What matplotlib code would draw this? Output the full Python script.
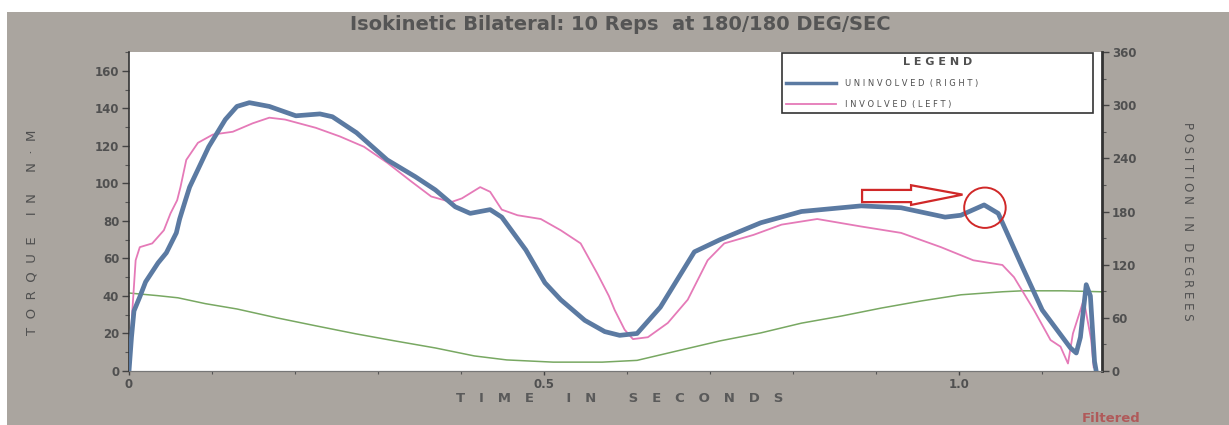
import matplotlib.pyplot as plt
from matplotlib.patches import Rectangle, Ellipse, Polygon
from matplotlib.ticker import MultipleLocator, FixedLocator
from matplotlib.lines import Line2D

# uninvolved (right) torque, N*M
right_t = [0.000, 0.003, 0.006, 0.013, 0.020, 0.035, 0.045, 0.057, 0.061, 0.068, 0.073,
           0.096, 0.116, 0.130, 0.145, 0.169, 0.201, 0.230, 0.245, 0.274, 0.311, 0.345,
           0.369, 0.393, 0.411, 0.435, 0.449, 0.478, 0.501, 0.520, 0.549, 0.573, 0.591,
           0.612, 0.640, 0.681, 0.712, 0.761, 0.810, 0.882, 0.930, 0.983, 1.002, 1.030,
           1.047, 1.076, 1.100, 1.134, 1.141, 1.146, 1.153, 1.158, 1.163, 1.165]
right_nm = [0, 18, 32, 39.5, 47.5, 57.6, 63, 73.6, 81, 91, 98,
            119.5, 134, 141, 143, 141, 136, 137, 135.5, 127, 112.5, 103.5,
            96.5, 87.5, 84, 86, 82, 64.5, 47, 38, 27, 21, 19,
            20, 34, 63.5, 70, 79, 85, 88, 87, 82, 83, 88.5,
            84, 55.5, 32.5, 12.3, 9.6, 18, 46, 40, 5, 0]

# involved (left) torque, N*M
left_t = [0.000, 0.004, 0.008, 0.013, 0.028, 0.042, 0.050, 0.058, 0.062, 0.069, 0.083,
          0.101, 0.125, 0.149, 0.169, 0.188, 0.225, 0.254, 0.283, 0.311, 0.340, 0.364,
          0.388, 0.401, 0.423, 0.435, 0.449, 0.468, 0.496, 0.520, 0.544, 0.564, 0.578,
          0.585, 0.597, 0.607, 0.625, 0.649, 0.673, 0.697, 0.717, 0.752, 0.786, 0.829,
          0.882, 0.930, 0.978, 1.017, 1.052, 1.066, 1.090, 1.110, 1.122, 1.131, 1.137,
          1.150, 1.159, 1.162]
left_nm = [0, 32, 59, 66, 68, 75, 84, 91, 98, 112.5, 121.6,
           126, 127.5, 132, 135, 134, 129.6, 125, 119.5, 111, 101, 93,
           90, 92, 98, 95.5, 86, 83, 81, 75, 68, 52, 40,
           32.5, 22, 17, 18, 25.6, 38, 59, 68, 72.5, 78, 81,
           77, 73.6, 66, 59, 56.5, 50, 32.5, 16.5, 13, 4, 20,
           38, 16.5, 2]

# position, degrees
pos_t = [0.000, 0.035, 0.059, 0.092, 0.130, 0.178, 0.225, 0.273, 0.320, 0.369, 0.416,
         0.455, 0.511, 0.570, 0.612, 0.660, 0.712, 0.761, 0.810, 0.858, 0.906, 0.954,
         1.002, 1.052, 1.076, 1.124, 1.172]
pos_deg = [88, 85, 82.6, 76, 70, 60, 51, 42, 34, 26, 17,
           12.5, 10, 10, 12, 22.6, 34, 43, 54, 62, 71, 79,
           86, 89.4, 90.5, 90.5, 89.4]

x_ticks = [0, 0.5, 1.0]
x_tick_labels = ['0', '0.5', '1.0']

BG = '#aaa59f'
TXT = '#505050'
BLUE = '#5b7aa2'
PINK = '#e57ab8'
GREEN = '#78a862'


def spaced(s, gap='  '):
    return gap.join(s)


fig = plt.figure(figsize=(12.29, 4.25), dpi=100)
fig.patches.append(Rectangle((7 / 1229, 0), 1, 413 / 425, transform=fig.transFigure,
                             facecolor=BG, edgecolor='none', zorder=-10))

ax = fig.add_axes([129 / 1229, 54 / 425, 973 / 1229, 319 / 425])
ax.set_facecolor('white')
ax.set_xlim(0, 1.172)
ax.set_ylim(0, 170)

ax.plot(left_t, left_nm, color=PINK, lw=1.3, zorder=3)
ax.plot(right_t, right_nm, color=BLUE, lw=3.4, zorder=4, solid_capstyle='round',
        solid_joinstyle='round')

ax2 = ax.twinx()
ax2.set_ylim(0, 360)
ax2.plot(pos_t, pos_deg, color=GREEN, lw=1.1, zorder=2)
ax.set_zorder(ax2.get_zorder() + 1)
ax.patch.set_visible(False)
ax2.patch.set_facecolor('white')
ax2.patch.set_visible(True)

for a in (ax, ax2):
    a.spines['top'].set_visible(False)
    a.spines['bottom'].set_color('#777777')
    a.spines['bottom'].set_linewidth(0.8)
ax.spines['left'].set_color('#333333')
ax.spines['left'].set_linewidth(1.2)
ax.spines['right'].set_visible(False)
ax2.spines['left'].set_visible(False)
ax2.spines['right'].set_color('#333333')
ax2.spines['right'].set_linewidth(2)

tick_font = dict(family='DejaVu Sans', weight='bold', size=8.5)
ax.xaxis.set_major_locator(FixedLocator(x_ticks))
ax.set_xticklabels(x_tick_labels, color=TXT, fontdict=tick_font)
ax.xaxis.set_minor_locator(MultipleLocator(0.1))
ax.yaxis.set_major_locator(MultipleLocator(20))
ax.yaxis.set_minor_locator(MultipleLocator(10))
ax2.yaxis.set_major_locator(MultipleLocator(60))
ax2.yaxis.set_minor_locator(MultipleLocator(30))
for lab in ax.get_yticklabels() + ax2.get_yticklabels():
    lab.set_fontfamily('DejaVu Sans')
    lab.set_fontweight('bold')
    lab.set_fontsize(8.5)
    lab.set_color(TXT)
ax.tick_params(axis='y', which='major', direction='out', length=5, width=1, color='#444444', pad=2)
ax.tick_params(axis='y', which='minor', direction='out', length=3, width=0.8, color='#555555')
ax.tick_params(axis='x', which='major', direction='out', length=3, width=1, color='#444444', pad=2)
ax.tick_params(axis='x', which='minor', direction='out', length=2, width=0.8, color='#555555')
ax2.tick_params(axis='y', which='major', direction='out', length=5, width=1, color='#444444', pad=2)
ax2.tick_params(axis='y', which='minor', direction='out', length=3, width=0.8, color='#555555')

# legend
handles = [Line2D([], [], color=BLUE, lw=2.5), Line2D([], [], color=PINK, lw=1.3)]
leg = ax.legend(handles, [spaced('UNINVOLVED', ' ') + '  ' + spaced('(RIGHT)', ' '),
                          spaced('INVOLVED', ' ') + '  ' + spaced('(LEFT)', ' ')],
                loc='upper left', bbox_to_anchor=(0.671, 0.802, 0.32, 0.196), mode='expand',
                fancybox=False, edgecolor='#333333', framealpha=1, handlelength=6,
                handletextpad=1.1, labelspacing=1.45, borderpad=0.5, borderaxespad=0,
                prop=dict(family='DejaVu Sans', size=6), labelcolor=TXT,
                title=spaced('LEGEND', ' '),
                title_fontproperties=dict(family='DejaVu Sans', weight='bold', size=8))
leg.get_title().set_color(TXT)
leg.get_frame().set_linewidth(1.2)

# red annotation
arrow = Polygon([(0.883, 96.5), (0.942, 96.5), (0.942, 99), (1.004, 94), (0.942, 88.5),
                 (0.942, 90), (0.883, 90)], closed=True, facecolor='none',
                edgecolor='#d02828', lw=1.6, zorder=6)
ax.add_patch(arrow)
ax.add_patch(Ellipse((1.031, 87), 0.05, 21.5, facecolor='none', edgecolor='#d02828',
                     lw=1.4, zorder=6))

fig.text(620 / 1229, 1 - 25 / 425, 'Isokinetic Bilateral: 10 Reps  at 180/180 DEG/SEC',
         ha='center', va='center', fontsize=14, weight='bold', color='#555555',
         family='DejaVu Sans')
fig.text(32 / 1229, 1 - 232 / 425, spaced('TORQUE') + '     ' + spaced('IN') + '     ' + spaced('N·M'),
         rotation=90, ha='center', va='center', fontsize=9.5, color=TXT, family='DejaVu Sans')
fig.text(1188 / 1229, 1 - 221 / 425, 'P O S I T I O N   I N   D E G R E E S', rotation=-90,
         ha='center', va='center', fontsize=8.5, color=TXT, family='DejaVu Sans')
fig.text(620 / 1229, 1 - 398 / 425,
         spaced('TIME', '   ') + '       ' + spaced('IN', '   ') + '       ' + spaced('SECONDS', '   '),
         ha='center', va='center', fontsize=9.5, weight='bold', color='#5a5a5a', family='DejaVu Sans')
fig.text(1111 / 1229, 1 - 418 / 425, 'Filtered', ha='center', va='center', fontsize=9.5,
         weight='bold', color='#b05a5a', family='DejaVu Sans')

fig.savefig('out.png', dpi=100)
